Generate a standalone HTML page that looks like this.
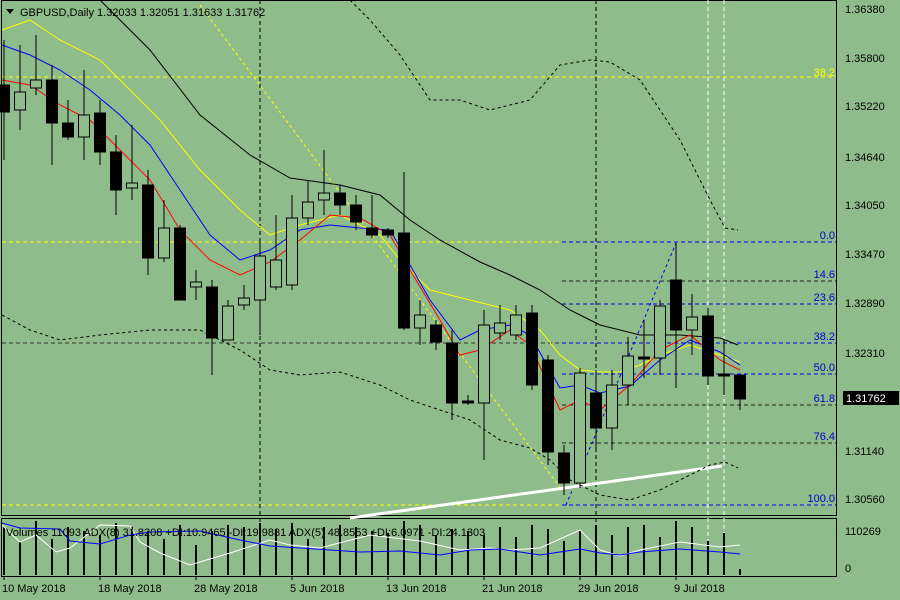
<!DOCTYPE html>
<html><head><meta charset="utf-8"><style>
html,body{margin:0;padding:0;background:#8fbc8b;}
svg{display:block;font-family:"Liberation Sans",sans-serif;}
</style></head><body>
<svg width="900" height="600" viewBox="0 0 900 600" xmlns="http://www.w3.org/2000/svg">
<rect width="900" height="600" fill="#8fbc8b"/>
<rect x="1.5" y="0.5" width="835" height="515" fill="none" stroke="#000"/>
<rect x="1.5" y="518.5" width="835" height="58" fill="none" stroke="#000"/>
<g stroke-dasharray="4,3" stroke-width="1">
<line x1="260" y1="0" x2="260" y2="576" stroke="#000"/>
<line x1="596" y1="0" x2="596" y2="576" stroke="#000"/>
<line x1="708" y1="0" x2="708" y2="576" stroke="#fff"/>
<line x1="724" y1="0" x2="724" y2="576" stroke="#fff"/>
</g>
<g stroke="#ff0" stroke-dasharray="4,3">
<line x1="2" y1="77" x2="836" y2="77"/>
<line x1="2" y1="242" x2="836" y2="242"/>
<line x1="2" y1="505" x2="836" y2="505"/>
</g>
<line x1="2" y1="343" x2="836" y2="343" stroke="#333" stroke-dasharray="4,3"/>
<g stroke="#0000ee" stroke-dasharray="4,3">
<line x1="562" y1="242" x2="836" y2="242"/>
<line x1="562" y1="281" x2="836" y2="281" stroke="#222"/>
<line x1="562" y1="304" x2="836" y2="304"/>
<line x1="562" y1="343" x2="836" y2="343"/>
<line x1="562" y1="374" x2="836" y2="374"/>
<line x1="562" y1="405" x2="836" y2="405" stroke="#222"/>
<line x1="562" y1="443" x2="836" y2="443" stroke="#222"/>
<line x1="562" y1="505" x2="836" y2="505"/>
</g>
<g font-size="11" fill="#0000cc" text-anchor="end">
<text x="835" y="239">0.0</text><text x="835" y="278">14.6</text><text x="835" y="301">23.6</text>
<text x="835" y="340">38.2</text><text x="835" y="371">50.0</text><text x="835" y="402">61.8</text>
<text x="835" y="440">76.4</text><text x="835" y="502">100.0</text>
<text x="835" y="76" fill="#ff0">38.2</text>
</g>
<line x1="200" y1="5" x2="562" y2="490" stroke="#ff0" stroke-dasharray="3,3"/>
<line x1="566" y1="505" x2="676" y2="243" stroke="#0000ee" stroke-dasharray="3,3"/>
<line x1="350" y1="518" x2="722" y2="466" stroke="#fff" stroke-width="3"/>
<g fill="none" stroke="#000" stroke-width="1">
<polyline points="100,0 150,50 200,115 250,155 290,178 340,185 380,195 410,220 440,240 480,262 510,275 540,290 570,310 590,320 600,325 640,335 680,335 720,338 738,345"/>
<polyline stroke-dasharray="3,3" points="350,0 370,20 400,55 430,100 460,100 490,110 530,100 560,65 590,60 610,62 640,80 680,140 710,200 725,228 738,230"/>
<polyline stroke-dasharray="3,3" points="2,315 30,330 60,340 100,335 150,330 200,330 240,350 270,370 300,375 340,372 380,385 410,400 440,410 470,420 500,440 530,448 550,460 570,480 600,495 630,500 660,490 690,475 710,465 725,462 738,468"/>
</g>
<polyline fill="none" stroke="#ff0" points="2,30 30,20 60,40 100,60 130,90 160,120 200,170 240,210 270,235 300,225 340,215 380,235 400,260 430,290 470,300 510,310 540,330 560,355 580,370 600,372 620,372 640,365 660,355 690,345 720,355 740,362"/>
<polyline fill="none" stroke="#0000ff" points="2,45 30,55 60,70 90,90 120,115 150,145 180,190 210,235 240,260 270,250 300,230 330,225 360,228 390,230 410,265 430,300 460,340 480,330 510,325 530,335 560,388 580,385 600,393 630,386 660,360 690,340 720,352 740,365"/>
<polyline fill="none" stroke="#ff0000" points="2,80 30,85 60,105 90,120 120,150 150,180 180,230 210,260 240,275 270,262 300,240 330,215 360,218 390,235 410,270 440,320 460,355 480,350 510,330 530,345 560,410 580,400 600,410 630,385 660,350 690,335 720,360 740,370"/>
<g id="c" stroke="#000" stroke-width="1"></g>
<g font-size="11" fill="#000">
<text x="845" y="13">1.36380</text><text x="845" y="62">1.35800</text><text x="845" y="110">1.35220</text>
<text x="845" y="161">1.34640</text><text x="845" y="209">1.34050</text><text x="845" y="258">1.33470</text>
<text x="845" y="307">1.32890</text><text x="845" y="357">1.32310</text><text x="845" y="455">1.31140</text>
<text x="845" y="503">1.30560</text>
<text x="845" y="535">110269</text><text x="845" y="572">0</text>
</g>
<rect x="843" y="391" width="56" height="14" fill="#000"/>
<text x="846" y="402" font-size="11" fill="#fff">1.31762</text>
<polygon points="6,9 14,9 10,14" fill="#000"/>
<text x="20" y="16" font-size="11" fill="#000">GBPUSD,Daily  1.32033 1.32051 1.31633 1.31762</text>
<g id="v" stroke="#000" stroke-width="2"></g>
<polyline fill="none" stroke="#fff" points="2,525 20,542 36,535 56,552 70,548 100,525 130,526 140,542 160,553 190,565 230,553 270,540 290,545 320,548 370,535 420,541 460,550 490,548 510,550 540,548 580,530 600,550 620,556 640,550 680,542 720,547 740,545"/>
<polyline fill="none" stroke="#0000ff" points="2,523 20,528 60,529 70,541 100,544 130,535 150,532 200,531 240,540 270,546 300,548 330,550 360,552 400,551 440,555 470,550 500,549 540,555 560,552 580,549 600,553 620,555 640,552 680,549 720,552 740,554"/>
<text x="6" y="536" font-size="11" fill="#000">Volumes 11093  ADX(8) 31.8208 +DI:10.9465 -DI:19.9881  ADX(5) 48.8553 +DI:6.0971 -DI:24.1303</text>
<g font-size="11" fill="#000">
<text x="2" y="592">10 May 2018</text><text x="98" y="592">18 May 2018</text><text x="194" y="592">28 May 2018</text>
<text x="290" y="592">5 Jun 2018</text><text x="386" y="592">13 Jun 2018</text><text x="482" y="592">21 Jun 2018</text>
<text x="578" y="592">29 Jun 2018</text><text x="674" y="592">9 Jul 2018</text>
</g>
<g stroke="#000"><line x1="4" y1="576" x2="4" y2="580"/><line x1="100" y1="576" x2="100" y2="580"/><line x1="196" y1="576" x2="196" y2="580"/><line x1="292" y1="576" x2="292" y2="580"/><line x1="388" y1="576" x2="388" y2="580"/><line x1="484" y1="576" x2="484" y2="580"/><line x1="580" y1="576" x2="580" y2="580"/><line x1="676" y1="576" x2="676" y2="580"/></g>
<script>
var d=[[4,85,112,40,160,0],[20,92,110,45,130,1],[36,80,88,35,95,1],[52,80,123,65,165,0],[68,123,137,100,140,0],[84,115,137,70,160,1],[100,113,152,100,165,0],[116,152,190,135,215,0],[132,183,188,125,200,1],[148,185,258,170,275,0],[164,228,258,200,262,1],[180,228,300,225,300,0],[196,282,287,270,300,1],[212,287,338,280,375,0],[228,306,340,300,340,1],[244,298,305,285,310,1],[260,256,300,240,335,1],[276,260,287,215,290,1],[292,218,285,195,290,1],[308,202,218,180,225,1],[324,193,200,150,215,1],[340,193,205,185,215,0],[356,205,222,195,230,0],[372,228,235,195,238,0],[388,230,235,228,238,0],[404,233,328,172,330,0],[420,315,328,300,345,1],[436,325,342,320,350,0],[452,343,403,330,420,0],[468,401,403,395,405,0],[484,325,403,310,460,1],[500,323,333,305,340,1],[516,315,335,305,340,1],[532,313,385,305,390,0],[548,360,452,355,465,0],[564,453,483,445,495,0],[580,373,483,368,488,1],[596,393,428,370,450,0],[612,385,428,370,450,1],[628,356,385,337,405,1],[644,357,359,320,378,0],[660,306,358,300,375,1],[676,280,330,243,388,0],[692,317,330,294,355,1],[708,316,376,308,385,0],[724,374,376,340,395,0],[740,375,399,375,410,0]];
var ns="http://www.w3.org/2000/svg",g=document.getElementById("c"),v=document.getElementById("v");
var vh=[48,34,54,36,48,44,40,52,48,44,36,50,30,44,50,48,52,46,52,36,48,50,48,44,42,54,50,40,46,44,40,48,38,50,46,34,44,50,40,48,50,38,54,48,34,42,6];
d.forEach(function(c,i){
 var l=document.createElementNS(ns,"line");l.setAttribute("x1",c[0]);l.setAttribute("x2",c[0]);l.setAttribute("y1",c[3]);l.setAttribute("y2",c[4]);g.appendChild(l);
 var r=document.createElementNS(ns,"rect");r.setAttribute("x",c[0]-5.5);r.setAttribute("y",c[1]);r.setAttribute("width",11);r.setAttribute("height",Math.max(1,c[2]-c[1]));r.setAttribute("fill",c[5]?"#8fbc8b":"#000");g.appendChild(r);
 var b=document.createElementNS(ns,"line");b.setAttribute("x1",c[0]);b.setAttribute("x2",c[0]);b.setAttribute("y1",575);b.setAttribute("y2",575-vh[i]);v.appendChild(b);
});
</script>
</svg>
</body></html>
